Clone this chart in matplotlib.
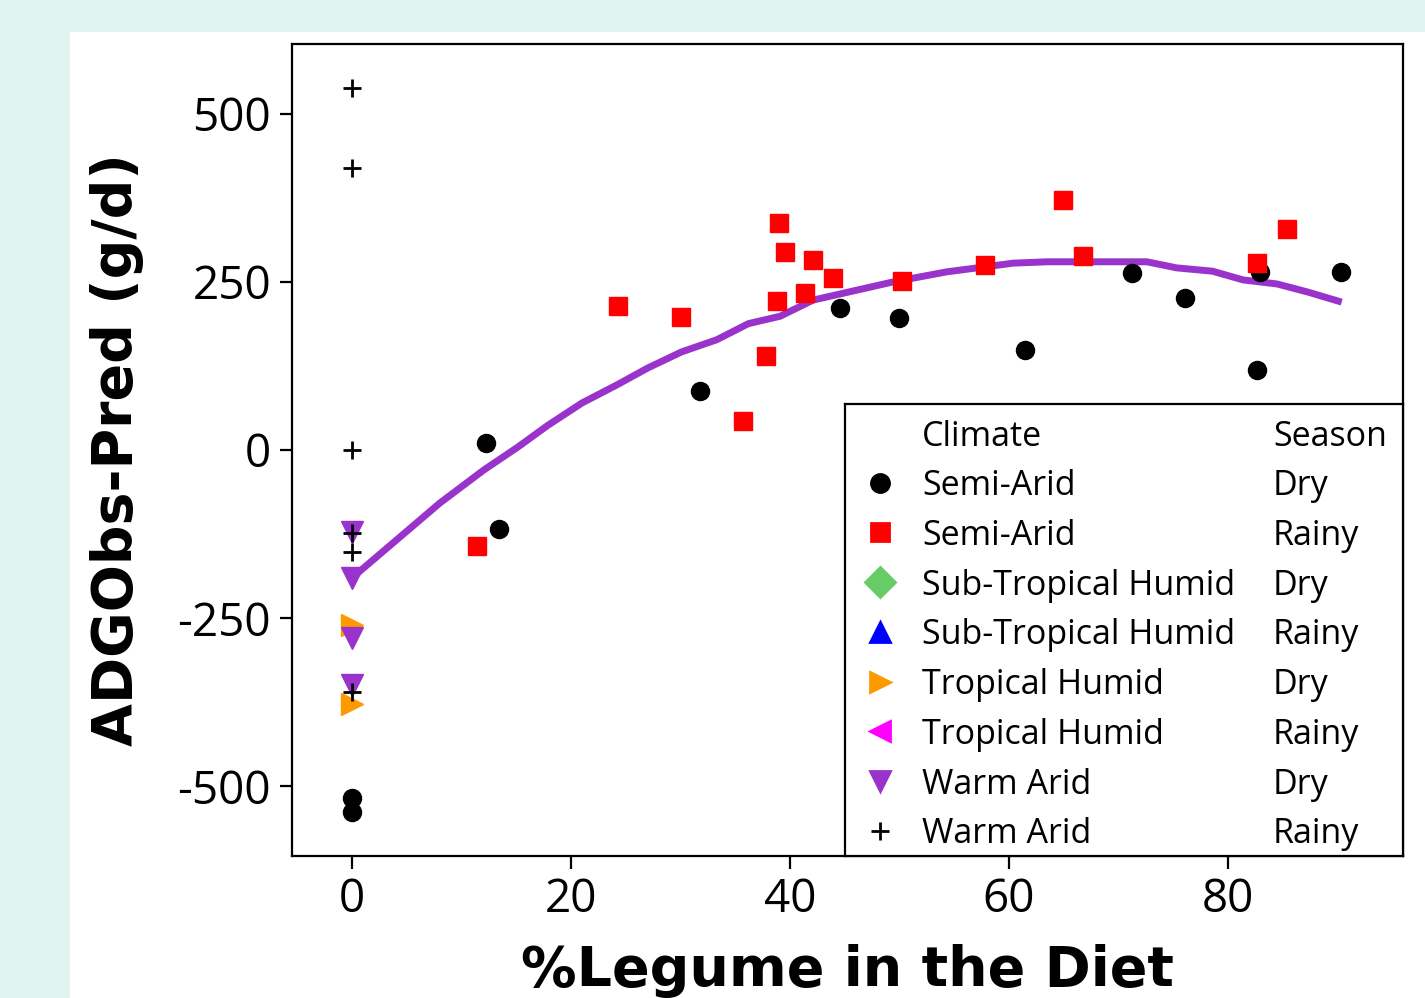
import matplotlib
matplotlib.use("Agg")
import matplotlib.pyplot as plt
from matplotlib.patches import Rectangle

# --- data ---
# Semi-Arid, Dry (black circles)
sa_dry_x = [0, 0, 12.2, 13.4, 31.8, 44.6, 50.0, 61.5, 71.2, 76.1, 82.7, 82.9, 90.3]
sa_dry_y = [-518, -539, 10, -118, 88, 211, 196, 149, 263, 226, 119, 265, 265]
# Semi-Arid, Rainy (red squares)
sa_rainy_x = [11.4, 24.3, 30.0, 35.7, 37.8, 39.0, 38.8, 39.5, 41.4, 42.1, 43.9,
              50.2, 57.8, 64.9, 66.8, 82.7, 85.4]
sa_rainy_y = [-143, 214, 198, 43, 140, 338, 222, 295, 234, 283, 256,
              251, 275, 372, 289, 278, 329]
# Tropical Humid, Dry (orange right triangles)
th_dry_x = [0, 0]
th_dry_y = [-260, -378]
# Warm Arid, Dry (purple down triangles)
wa_dry_x = [0, 0, 0, 0]
wa_dry_y = [-122, -190, -280, -350]
# Warm Arid, Rainy (black plus)
wa_rainy_x = [0, 0, 0, 0, 0, 0]
wa_rainy_y = [539, 420, 0, -124, -152, -360]

# fitted trend (purple line)
fit_x = [0, 8.0, 12.0, 15.1, 17.9, 21.0, 24.2, 27.0, 30.1, 33.3, 36.2, 39.1, 42.1,
         49.4, 54.3, 60.4, 63.5, 72.6, 75.3, 78.6, 81.4, 84.5, 87.3, 90.4]
fit_y = [-190, -79, -30, 4, 37, 70, 97, 122, 146, 164, 188, 199, 223,
         250, 265, 278, 280, 280, 271, 266, 253, 247, 235, 220]

x_ticks = [0, 20, 40, 60, 80]
y_ticks = [-500, -250, 0, 250, 500]

legend_rows = [
    ("o", "black", "Semi-Arid", "Dry"),
    ("s", "#ff0000", "Semi-Arid", "Rainy"),
    ("D", "#66cc66", "Sub-Tropical Humid", "Dry"),
    ("^", "#0000ff", "Sub-Tropical Humid", "Rainy"),
    (">", "#ff9900", "Tropical Humid", "Dry"),
    ("<", "#ff00ff", "Tropical Humid", "Rainy"),
    ("v", "#9933cc", "Warm Arid", "Dry"),
    ("+", "black", "Warm Arid", "Rainy"),
]

plt.rcParams["font.family"] = ["Open Sans", "DejaVu Sans"]
plt.rcParams["axes.unicode_minus"] = False

fig = plt.figure(figsize=(14.25, 9.98), dpi=100, facecolor="#dff4ee")
fig.patches.append(Rectangle((70 / 1425, 0), 1, 1 - 32 / 998, transform=fig.transFigure,
                             facecolor="white", edgecolor="none", zorder=-5))

ax = fig.add_axes([292 / 1425, 1 - 856 / 998, (1403 - 292) / 1425, (856 - 44) / 998])
ax.set_facecolor("white")

ax.plot(fit_x, fit_y, color="#9933cc", lw=5, zorder=2, solid_capstyle="butt")
ms = 13
ax.plot(sa_dry_x, sa_dry_y, "o", color="black", ms=ms, zorder=3)
ax.plot(sa_rainy_x, sa_rainy_y, "s", color="#ff0000", ms=ms, zorder=3)
ax.plot(th_dry_x, th_dry_y, ">", color="#ff9900", ms=16, zorder=3)
ax.plot(wa_dry_x, wa_dry_y, "v", color="#9933cc", ms=16, zorder=3)
ax.plot(wa_rainy_x, wa_rainy_y, "+", color="black", ms=13, mew=2, zorder=4)

ax.set_xlim(-5.5, 96)
ax.set_ylim(-604, 604)
ax.set_xticks(x_ticks)
ax.set_yticks(y_ticks)
ax.tick_params(axis="both", direction="out", length=9, width=1.6, labelsize=33, pad=6)
for s in ax.spines.values():
    s.set_linewidth(1.6)

ax.set_xlabel("%Legume in the Diet", fontsize=40, fontweight="bold",
              family="DejaVu Sans", labelpad=15)
ax.set_ylabel("ADGObs-Pred (g/d)", fontsize=40, fontweight="bold",
              family="DejaVu Sans", labelpad=24)

# legend box in lower right corner
lax = fig.add_axes([845 / 1425, 1 - 856 / 998, (1403 - 845) / 1425, (856 - 404) / 998])
lax.set_xlim(0, 1)
lax.set_ylim(0, 1)
lax.set_xticks([])
lax.set_yticks([])
for s in lax.spines.values():
    s.set_linewidth(1.6)
fs = 24.5
row_y = [0.936 - 0.1100 * i for i in range(9)]
off = 0.008
lax.text(0.138, row_y[0] - off, "Climate", fontsize=fs, va="center", ha="left")
lax.text(0.767, row_y[0] - off, "Season", fontsize=fs, va="center", ha="left")
for i, (mk, col, clim, seas) in enumerate(legend_rows):
    y = row_y[i + 1]
    size = 13 if mk in ("o", "s", "+") else 15
    lax.plot([0.063], [y], mk, color=col, ms=size, mew=2)
    lax.text(0.138, y - off, clim, fontsize=fs, va="center", ha="left")
    lax.text(0.767, y - off, seas, fontsize=fs, va="center", ha="left")

fig.savefig("out.png", dpi=100, facecolor=fig.get_facecolor())
